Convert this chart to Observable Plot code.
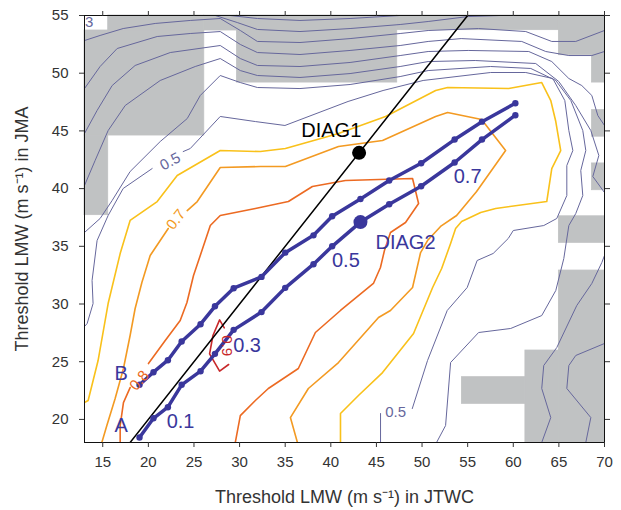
<!DOCTYPE html>
<html><head><meta charset="utf-8">
<script src="https://cdn.jsdelivr.net/npm/d3@7"></script>
<script src="https://cdn.jsdelivr.net/npm/@observablehq/plot@0.6"></script>
<style>
body{margin:0;background:#fff;}
#chart svg{font-family:"Liberation Sans",Arial,sans-serif;}
</style></head><body><div id="chart"></div>
<script>
// ---- data (m/s) ----
const xTicks = [15,20,25,30,35,40,45,50,55,60,65,70];
const yTicks = [20,25,30,35,40,45,50,55];
const xTitle = "Threshold LMW (m s⁻¹) in JTWC";
const yTitle = "Threshold LMW (m s⁻¹) in JMA";

// gray (masked) cells: [x1,x2,y1,y2]
const grayCells = [
  [15.6,26.13,53.7,55],[13,26.13,44.6,53.7],[13,15.6,37.7,44.6],
  [26.13,29.72,53.7,55],[29.72,47.28,49.19,55],[47.28,65,53.73,55],
  [65,70,51.56,55],[68.64,70,49.19,51.56],[68.64,70,44.5,46.8],
  [68.64,70,39.86,42.18],[65,70,35.3,37.6],[65,70,18,32.9],
  [61.33,65,18,25.97],[54.37,61.33,21.35,23.66]
];

// contour 0.9 (red)
const c09 = [[28.32,27.94],[27.81,28.63],[27.08,27.27],[26.71,25.68],[27.81,24.18],[28.8,24.76]];
// contour 0.8
const c08a = [[16.91,18],[16.91,19.47],[17.27,21.46],[18.0,22.76]];
const c08b = [[20.01,24.84],[21.85,26.84],[23.49,28.57],[24.23,30.13],[24.95,32.47],[25.69,34.2],[26.79,36.8],[27.88,37.67],[31.73,38.28],[35.35,38.88],[37.98,40.18],[41.6,40.7],[48.96,40.88],[49.62,38.71],[48.19,37.06],[46.54,36.2],[45.88,34.64],[45.44,33.16],[44.67,31.78],[41.06,29.44],[38.31,27.53],[36.44,24.41],[33.15,22.68],[31.73,21.64],[30.08,20.33],[29.53,18]];
// contour 0.7
const c07a = [[14.9,18],[15.45,19.47],[16.36,21.81],[17.27,24.41],[18.0,27.27],[18.55,29.61],[19.29,31.86],[20.2,34.2],[22.18,36.54]];
const c07b = [[24.26,38.1],[25.36,38.88],[27.88,41.83],[32.28,41.91],[35.02,41.91],[40.84,43.65],[45.67,44.17],[51.49,46.25],[52.8,46.59],[56.53,45.99],[59.16,43.3],[55.98,39.75],[53.79,37.67],[52.03,36.72],[50.6,35.5],[49.84,34.46],[48.96,31.43],[46.54,29.44],[45.23,28.83],[40.84,24.93],[37.54,22.68],[35.57,20.16],[36.34,18]];
// contour 0.6
const c06 = [[13,21.46],[13.4,21.64],[14.49,25.1],[15.59,30.04],[16.91,34.37],[18.0,37.24],[20.97,38.88],[23.16,41.14],[27.88,43.3],[32.28,43.21],[35.02,43.47],[40.84,44.77],[46.0,46.25],[51.49,48.5],[52.8,48.76],[59.5,48.67],[63.12,49.19],[64.11,47.63],[64.66,45.81],[65.2,43.3],[64.22,41.74],[63.67,38.88],[58.07,38.28],[56.43,37.93],[54.34,37.15],[53.68,36.54],[53.13,35.24],[52.15,33.08],[51.16,31.43],[49.07,27.44],[45.67,24.06],[43.03,22.07],[41.06,20.51],[41.06,18]];
// contour 0.5
const c05a = [[45.45,18],[45.45,20.51]];
const c05b = [[48.93,20.94],[50.6,25.1],[52.76,29.44],[54.95,31.43],[56.04,33.77],[57.8,34.38],[59.45,35.68],[60.0,36.37],[63.34,36.8],[64.77,37.41],[65.87,39.4],[65.87,42.0],[66.53,43.3],[66.09,45.03],[65.65,47.63],[64.33,49.54],[61.37,50.06],[57.52,50.06],[50.12,49.37],[45.73,48.5],[41.89,47.55],[34.97,45.47],[31.73,45.81],[27.88,46.25],[24.59,43.47],[23.82,43.21]];
const c05c = [[20.42,41.74],[17.24,40.01],[15.59,37.67],[14.38,35.5],[13.83,32.04],[13.94,30.04],[13.29,28.31],[13,28.05]];
// contour 0.4
const c04 = [[13,36.2],[14.71,37.41],[16.03,38.97],[18.0,41.48],[21.3,44.08],[24.26,46.07],[25.69,48.07],[27.88,49.8],[30.08,49.19],[31.95,48.76],[36.62,48.67],[42.11,49.02],[47.6,49.71],[50.67,50.23],[57.52,50.58],[61.92,50.41],[64.66,49.37],[66.31,47.63],[67.62,45.03],[67.95,43.3],[67.4,41.57],[67.62,39.4],[66.85,37.84],[66.09,36.8],[65.54,33.94],[64.66,31.17],[63.12,29.0],[59.72,27.88],[56.2,27.53],[53.13,24.93],[52.58,19.47],[51.59,18]];
// contour 0.3
const c03a = [[13,40.27],[14.16,42.43],[15.59,45.03],[17.46,47.2],[21.3,49.37],[25.14,50.58],[27.88,51.27],[30.08,50.23],[31.95,49.8],[36.62,49.63],[42.11,49.97],[47.6,50.58],[50.67,51.01],[55.83,51.1],[62.46,50.84],[64.99,49.28],[66.85,47.2],[68.5,45.03],[69.38,42.87],[68.72,41.05],[70,39.66]];
const c03b = [[70,34.2],[69.71,33.6],[68.61,31.78],[66.96,29.87],[64.77,26.23],[63.34,24.67],[63.12,22.68],[64.11,20.16],[63.12,18]];
// contour 0.2
const c02a = [[13,44.77],[14.38,46.77],[16.03,48.93],[18.55,50.67],[22.4,51.79],[27.88,52.4],[30.08,51.27],[31.95,50.67],[36.62,50.58],[42.11,50.93],[47.6,51.53],[50.67,51.88],[55.06,51.97],[61.7,51.88],[64.22,51.01],[66.09,49.54],[67.51,48.93],[68.61,48.07],[69.27,46.33],[70,45.47]];
const c02b = [[70,26.58],[66.85,25.54],[66.09,24.67],[65.87,22.68],[68.5,20.16],[67.95,18]];
// contours 0.1, 0.0, -0.1, -0.2
const c01 = [[13,48.67],[14.71,50.58],[16.58,52.14],[20.97,53.18],[24.59,53.44],[27.88,53.61],[30.08,52.49],[31.95,51.79],[36.62,51.62],[42.11,51.97],[47.6,52.4],[50.67,52.75],[54.29,53.0],[60.93,52.75],[63.56,51.88],[66.09,51.53],[68.61,51.53],[70,51.88]];
const c00 = [[13,52.83],[14.71,53.27],[17.24,53.87],[20.75,54.31],[24.59,54.57],[27.88,54.74],[30.08,53.7],[31.95,52.75],[36.62,52.66],[42.11,53.0],[47.6,53.44],[50.67,53.7],[56.2,53.87],[61.37,53.61],[64.22,52.75],[66.85,52.75],[70,53.7]];
const cm01 = [[27.34,55],[29.75,54.39],[31.95,53.79],[36.62,53.61],[42.11,53.87],[47.6,54.22],[50.67,54.48],[55.06,54.91],[58.62,55]];
const cm02 = [[28.98,55],[31.95,54.74],[36.62,54.57],[42.11,54.74],[47.6,55]];

// LMW threshold curves
const curveX = [19.03,20.56,22.14,23.65,25.72,27.3,29.35,32.4,35.0,38.1,40.15,43.25,46.4,49.9,53.57,56.57,60.23];
const curveA = [18.43,20.1,21.06,23.0,24.18,25.68,27.76,29.3,31.4,33.45,35.0,37.1,38.65,40.2,42.26,44.25,46.36];
const curveB = [23.0,24.09,25.13,26.75,28.25,29.8,31.37,32.35,34.45,35.95,37.6,39.1,40.7,42.2,44.25,45.8,47.4];
const diagLine = [[18,18],[55,55]];
const diag1 = [43.1,43.1];
const diag2 = [43.25,37.1];

// text labels
const curveLabels = [
  {x:17.03,y:19.47,t:"A"},{x:17.03,y:23.98,t:"B"},
  {x:23.53,y:19.82,t:"0.1"},{x:30.82,y:26.4,t:"0.3"},
  {x:41.65,y:33.77,t:"0.5"},{x:55.0,y:41.04,t:"0.7"},
  {x:48.19,y:35.35,t:"DIAG2"}
];
const contourLabels = [
  {x:22.4,y:42.35,t:"0.5",c:"#66679c",r:-28},
  {x:23.02,y:37.32,t:"0.7",c:"#f39a22",r:-52},
  {x:19.0,y:23.37,t:"0.8",c:"#ec6a22",r:-50},
  {x:28.62,y:26.4,t:"0.9",c:"#c8282a",r:90},
  {x:47.1,y:20.6,t:"0.5",c:"#66679c",r:0},
  {x:13.5,y:54.4,t:"3",c:"#66679c",r:0}
];

const blue = "#3a379c";
const slate = "#66679c";
const toPts = (xs, ys) => xs.map((x,i)=>[x, ys[i]]);
const ln = (d, stroke, w) => Plot.line(d, {stroke, strokeWidth: w, clip: true, strokeLinejoin:"round"});

const chart = Plot.plot({
  width: 621, height: 510,
  marginLeft: 84, marginRight: 17, marginTop: 15, marginBottom: 68,
  x: {domain: [13,70]},
  y: {domain: [18,55]},
  style: {fontFamily: "Liberation Sans, Arial, sans-serif", fontSize: "15px", color: "#333"},
  marks: [
    Plot.rect(grayCells, {x1: d=>d[0], x2: d=>d[1], y1: d=>d[2], y2: d=>d[3], fill: "#c0c2c3", stroke: "#c0c2c3", strokeWidth: 0.8}),
    ...[cm02,cm01,c00,c01,c02a,c02b,c03a,c03b,c04,c05a,c05b,c05c].map(d=>ln(d, slate, 1)),
    ln(c06, "#f9c11a", 1.6),
    ln(c07a, "#f39a22", 1.6), ln(c07b, "#f39a22", 1.6),
    ln(c08a, "#ec6a22", 1.6), ln(c08b, "#ec6a22", 1.6),
    ln(c09, "#c8282a", 1.6),
    Plot.line(diagLine, {stroke: "black", strokeWidth: 1.5, clip: true}),
    Plot.line(toPts(curveX, curveB), {stroke: blue, strokeWidth: 3.5}),
    Plot.line(toPts(curveX, curveA), {stroke: blue, strokeWidth: 3.5}),
    Plot.dot(toPts(curveX, curveB), {fill: blue, r: 3.2}),
    Plot.dot(toPts(curveX, curveA), {fill: blue, r: 3.2}),
    Plot.dot([diag2], {fill: blue, r: 7}),
    Plot.dot([diag1], {fill: "black", r: 7}),
    Plot.text(contourLabels, {x:"x", y:"y", text:"t", fill:"c", rotate:"r", fontSize: 15}),
    Plot.text(curveLabels, {x:"x", y:"y", text:"t", fill: blue, fontSize: 20}),
    Plot.text([{x:40.05,y:45.03}], {x:"x", y:"y", text: ()=>"DIAG1", fill:"black", fontSize: 20}),
    Plot.frame({stroke:"#111"}),
    Plot.axisX({anchor:"bottom", ticks: xTicks, tickSize: 5, tickPadding: 9, fontSize: 15, label: null}),
    Plot.axisX({anchor:"top", ticks: xTicks, tickSize: 5, tickFormat: ()=>"", label: null}),
    Plot.axisY({anchor:"left", ticks: yTicks, tickSize: 5, tickPadding: 11, fontSize: 15, label: null}),
    Plot.axisY({anchor:"right", ticks: yTicks, tickSize: 5, tickFormat: ()=>"", label: null}),
    Plot.text([xTitle], {text: d=>d, frameAnchor: "bottom", textAnchor: "middle", lineAnchor: "middle", dy: 55, fontSize: 18, fill: "#333"}),
    Plot.text([yTitle], {text: d=>d, frameAnchor: "left", textAnchor: "middle", lineAnchor: "middle", dx: -62, rotate: -90, fontSize: 18, fill: "#333"})
  ]
});
document.getElementById("chart").appendChild(chart);
</script></body></html>
